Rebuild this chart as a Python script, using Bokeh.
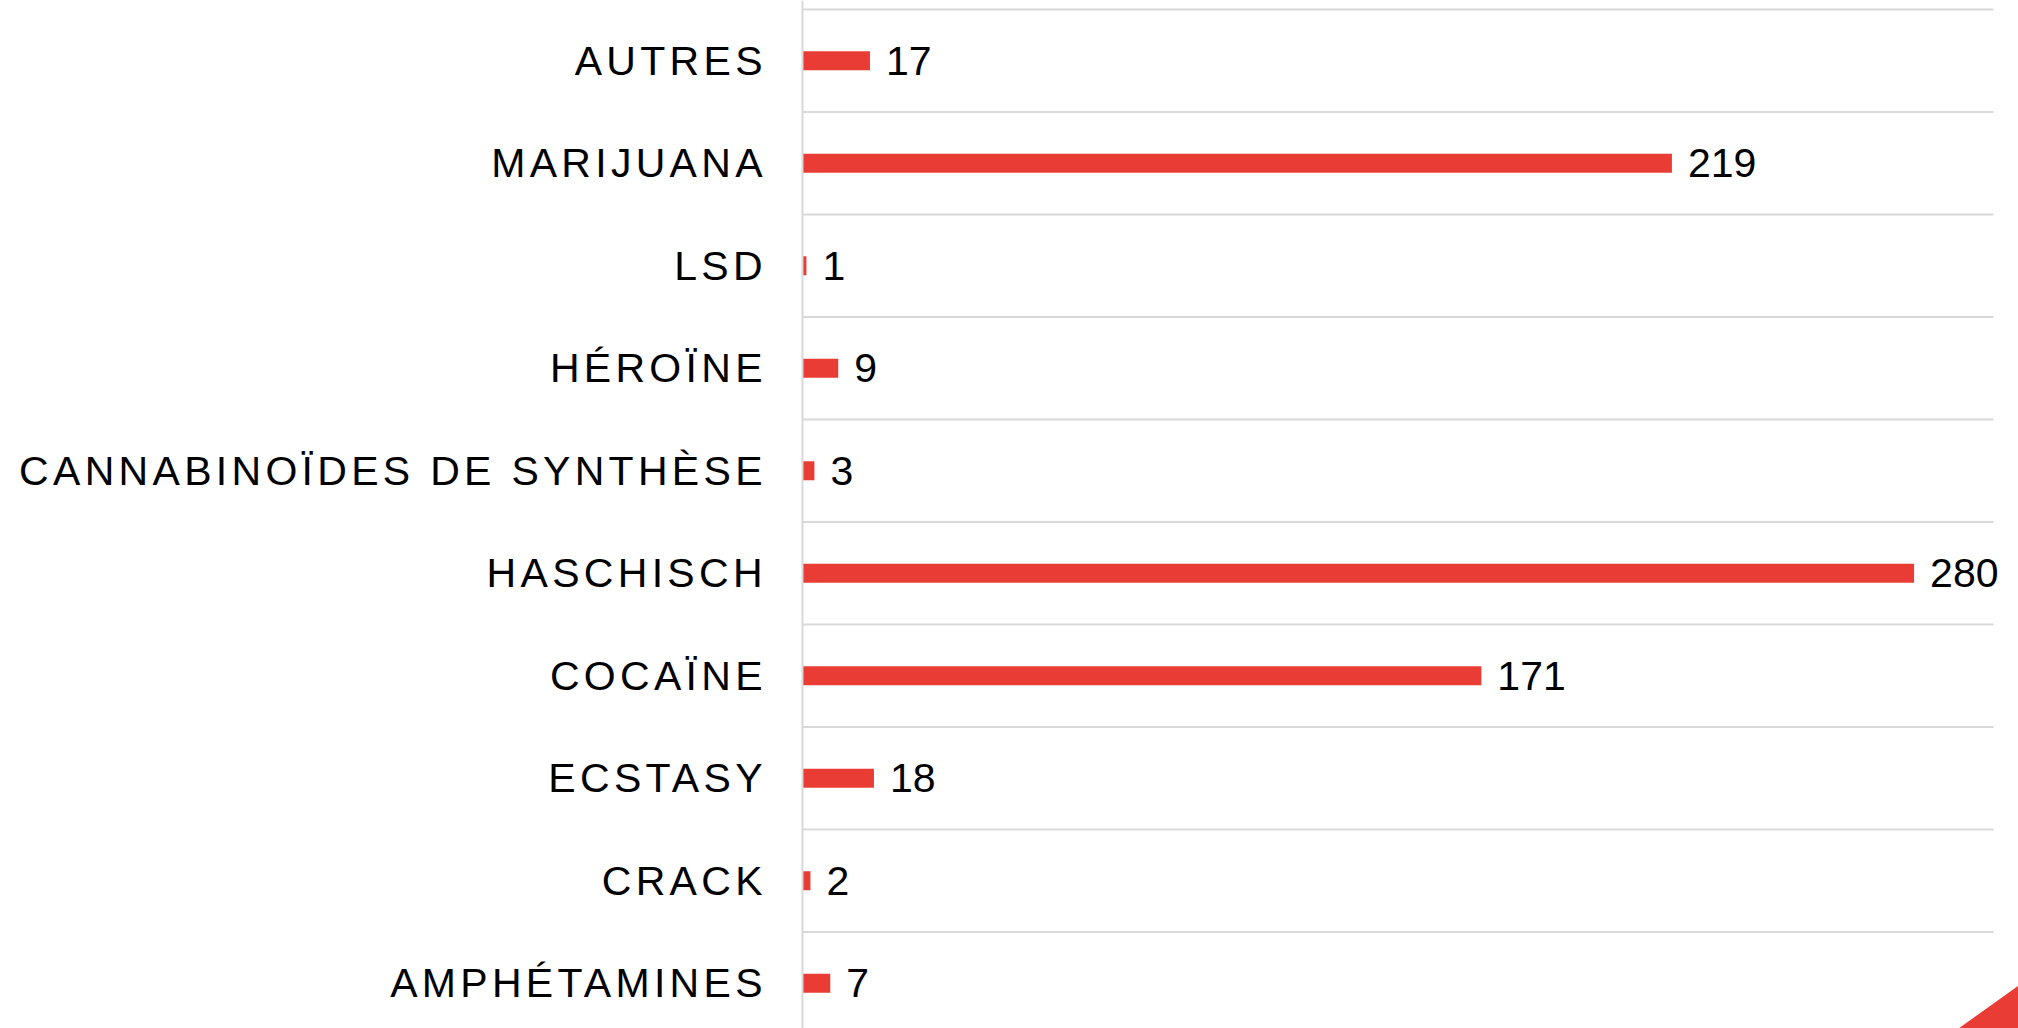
from bokeh.plotting import figure
from bokeh.layouts import row
from bokeh.models import Range1d, ColumnDataSource, Span, InlineStyleSheet
from bokeh.core.properties import value
from bokeh.embed import file_html
from bokeh.resources import INLINE

# ---- data (bottom to top) ----
categories = ["AMPHÉTAMINES", "CRACK", "ECSTASY", "COCAÏNE", "HASCHISCH",
              "CANNABINOÏDES DE SYNTHÈSE", "HÉROÏNE", "LSD", "MARIJUANA", "AUTRES"]
counts = [7, 2, 18, 171, 280, 3, 9, 1, 219, 17]
grid_max = 300

# ---- style ----
RED = "#E83C35"
GRID = "#D9D9D9"
FONT = "Liberation Sans"
FS = "41px"
LS = 4.3          # letter spacing (px) of the category labels
LABEL_GAP = 38    # gap between label end and the axis (px)

n = len(categories)
pos = list(range(n))
y_range = Range1d(-0.441, 9.588)

# letter-spacing makes each label longer than Bokeh measures; shift it back
label_offsets = [-(LABEL_GAP + LS * (len(c) - 1)) for c in categories]

src = ColumnDataSource(dict(y=pos, cat=categories, v=counts,
                            lab=[str(c) for c in counts], xo=label_offsets))

# ---- left panel: category labels ----
left = figure(width=800, height=1028, x_range=Range1d(0, 1), y_range=y_range,
              toolbar_location=None, output_backend="svg",
              min_border_left=0, min_border_right=0, min_border_top=0, min_border_bottom=0)
left.axis.visible = False
left.grid.visible = False
left.outline_line_color = None
left.text(x=1, y="y", text="cat", source=src, x_offset="xo",
          text_align="right", text_baseline="middle",
          text_font=value(FONT), text_font_size=FS, text_color="#000000")
left.stylesheets = [InlineStyleSheet(css=":host { letter-spacing: %spx; }" % LS)]

# ---- right panel: bars ----
x_end = 306.3
p = figure(width=1218, height=1028, x_range=Range1d(-0.5, x_end), y_range=y_range,
           toolbar_location=None, output_backend="svg",
           min_border_left=0, min_border_right=0, min_border_top=0, min_border_bottom=0)
p.axis.visible = False
p.grid.visible = False
p.outline_line_color = None

# horizontal separators between categories
sep = [i - 0.5 for i in range(n + 1)]
p.segment(x0=[0] * len(sep), x1=[grid_max] * len(sep), y0=sep, y1=sep,
          line_color=GRID, line_width=2)
# axis line
p.add_layout(Span(location=0, dimension="height", line_color=GRID, line_width=2))

p.hbar(y="y", left=0, right="v", height=0.185, source=src,
       fill_color=RED, line_color=None)
p.text(x="v", y="y", text="lab", source=src, x_offset=16,
       text_align="left", text_baseline="middle",
       text_font=value(FONT), text_font_size=FS, text_color="#000000")

# decorative corner triangle
p.patch(x=[291.2, x_end + 2, x_end + 2], y=[-0.441, 0.033, -0.441],
        fill_color=RED, line_color=None)

layout = row(left, p, spacing=0)
open("out.html", "w").write(file_html(layout, INLINE))
